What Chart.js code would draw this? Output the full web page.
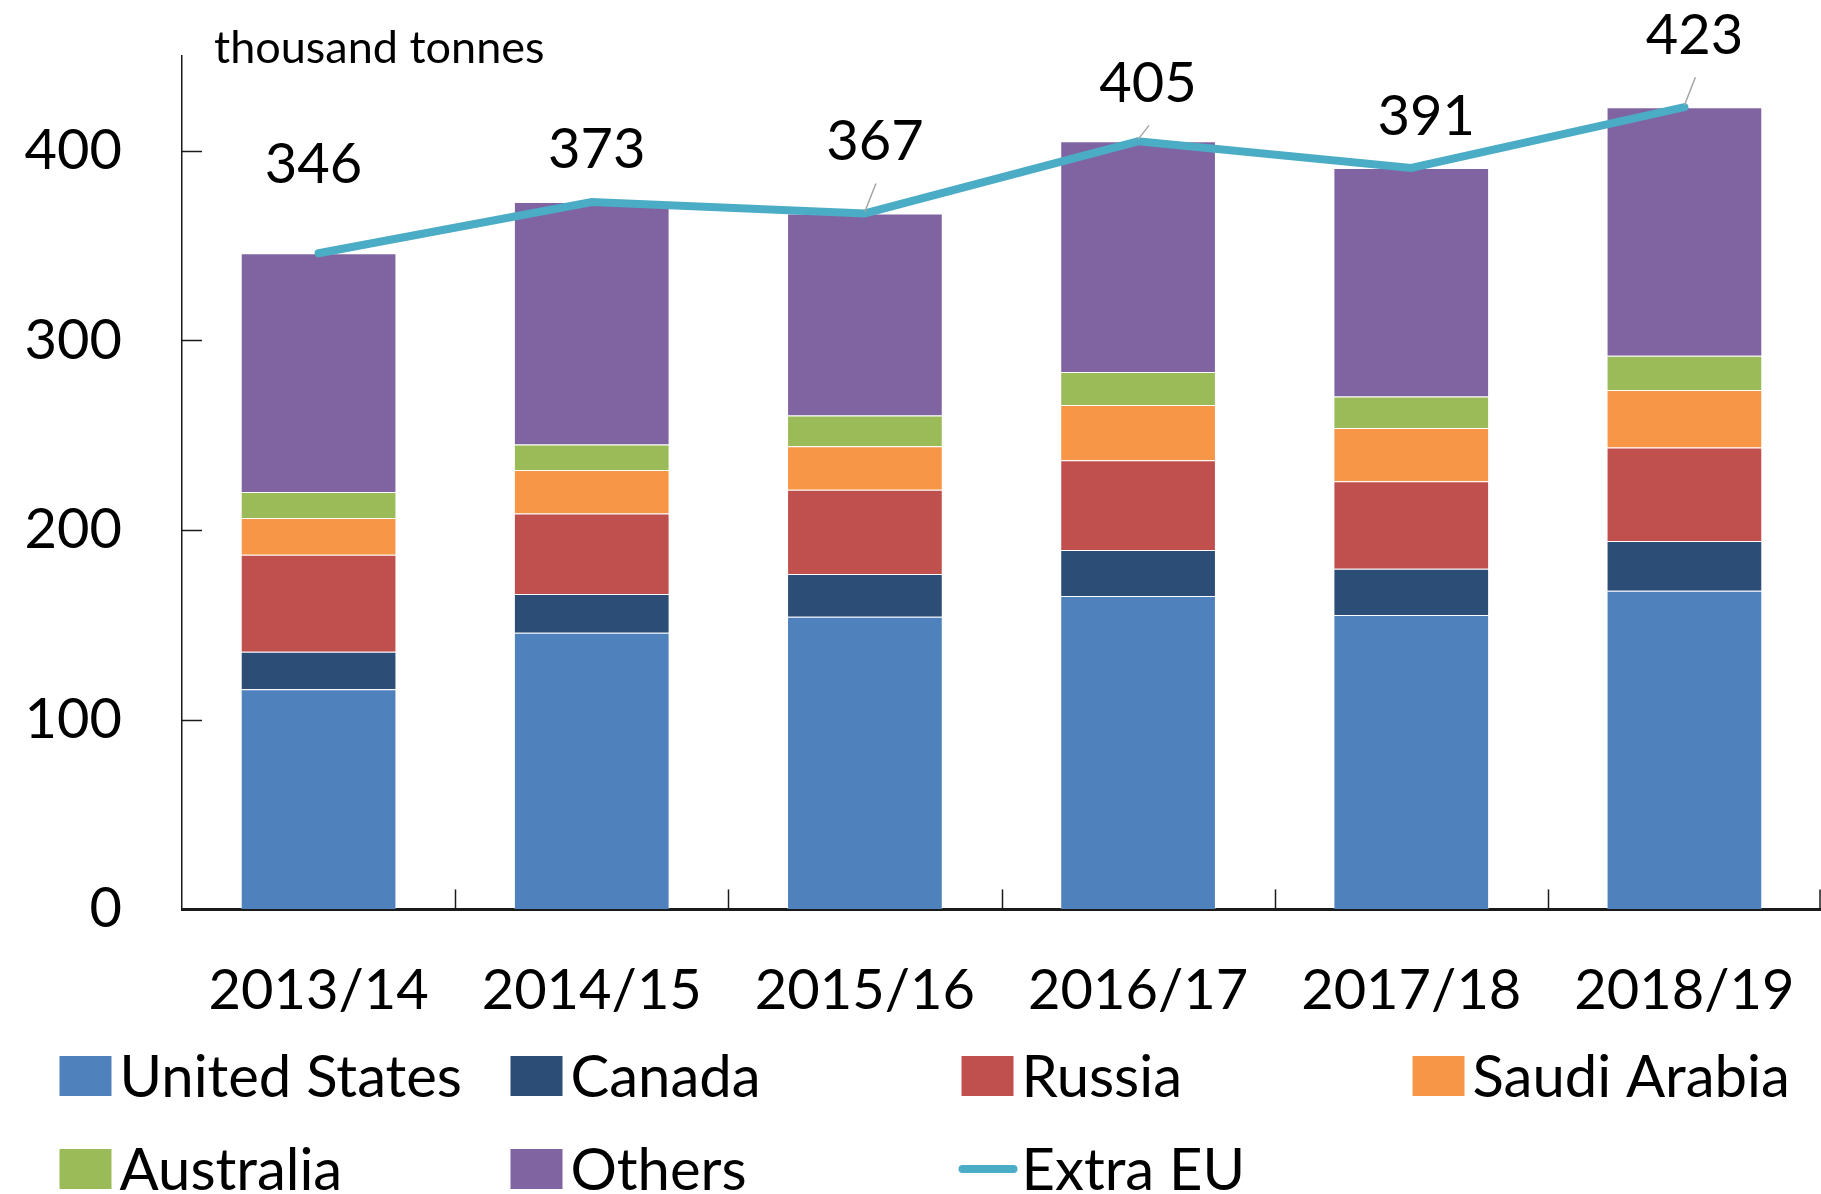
<!DOCTYPE html>
<html>
<head>
<meta charset="utf-8">
<script src="https://cdn.jsdelivr.net/npm/chart.js@4.4.1/dist/chart.umd.min.js"></script>
<style>
  html, body { margin: 0; padding: 0; background: #fff; }
  canvas { display: block; }
</style>
</head>
<body>
<canvas id="imports" width="1821" height="1194"></canvas>
<script>
const categories = ['2013/14', '2014/15', '2015/16', '2016/17', '2017/18', '2018/19'];
const unitedStates = [116.1, 145.9, 154.3, 165.2, 155.2, 168.0];
const canada = [19.7, 20.4, 22.5, 24.3, 24.4, 26.2];
const russia = [51.2, 42.5, 44.5, 47.3, 46.1, 49.3];
const saudiArabia = [19.4, 22.9, 22.9, 29.2, 28.2, 30.4];
const australia = [13.7, 13.4, 16.3, 17.4, 16.5, 18.0];
const others = [125.9, 127.9, 106.5, 121.6, 120.6, 131.1];
const extraEU = [346, 373, 367, 405, 391, 423];
const yTicks = [0, 100, 200, 300, 400];

// where each total label sits relative to its point, and which get a leader line
const labelShift = [[-5, -88], [5, -52], [10, -71], [10, -57], [15, -51], [10, -71]];
const leaderLine = [false, false, true, true, false, true];

const FONT = 'Lato, "Open Sans", sans-serif';

function barSet(label, data, color) {
    return {
        type: 'bar',
        label: label,
        data: data,
        backgroundColor: color,
        borderColor: 'rgba(255,255,255,0.35)',
        borderWidth: 1,
        stack: 'bars',
        order: 1,
        barPercentage: 0.57,
        categoryPercentage: 1,
    };
}

const chartData = {
    labels: categories,
    datasets: [
        {
            type: 'line',
            label: 'Extra EU',
            data: extraEU,
            borderColor: '#4BACC6',
            borderWidth: 8,
            borderCapStyle: 'round',
            borderJoinStyle: 'miter',
            pointRadius: 0,
            tension: 0,
            stack: 'total',
            order: 0,
        },
        barSet('United States', unitedStates, '#4F81BD'),
        barSet('Canada', canada, '#2C4D75'),
        barSet('Russia', russia, '#C0504D'),
        barSet('Saudi Arabia', saudiArabia, '#F79646'),
        barSet('Australia', australia, '#9BBB59'),
        barSet('Others', others, '#8064A2'),
    ],
};

// inward tick marks, value labels, unit text and the legend grid
const extras = {
    id: 'extras',
    afterDatasetsDraw(chart) {
        const ctx = chart.ctx;
        const x = chart.scales.x;
        const y = chart.scales.y;
        ctx.save();

        // tick marks
        ctx.strokeStyle = '#1a1a1a';
        ctx.lineWidth = 1.5;
        yTicks.slice(1).forEach(v => {
            const py = Math.round(y.getPixelForValue(v)) + 0.5;
            ctx.beginPath();
            ctx.moveTo(x.left, py);
            ctx.lineTo(x.left + 20, py);
            ctx.stroke();
        });
        for (let i = 0; i < categories.length; i++) {
            let px = Math.round((x.getPixelForValue(i) + x.getPixelForValue(i + 1)) / 2) + 0.5;
            if (px > chart.width) px = chart.width - 1;
            ctx.beginPath();
            ctx.moveTo(px, y.bottom);
            ctx.lineTo(px, y.bottom - 20);
            ctx.stroke();
        }

        // totals above the line
        const meta = chart.getDatasetMeta(0);
        ctx.font = '56px ' + FONT;
        ctx.fillStyle = '#000';
        ctx.textAlign = 'center';
        ctx.textBaseline = 'middle';
        meta.data.forEach((pt, i) => {
            const lx = pt.x + labelShift[i][0];
            const ly = pt.y + labelShift[i][1];
            if (leaderLine[i]) {
                ctx.strokeStyle = '#A6A6A6';
                ctx.lineWidth = 1.5;
                ctx.beginPath();
                ctx.moveTo(lx + 1, ly + 41);
                ctx.lineTo(pt.x, pt.y - 2);
                ctx.stroke();
            }
            ctx.fillText(String(extraEU[i]), lx, ly);
        });

        // unit
        ctx.font = '45px ' + FONT;
        ctx.textAlign = 'left';
        ctx.textBaseline = 'alphabetic';
        ctx.fillText('thousand tonnes', 214, 63);

        // legend
        const order = [1, 2, 3, 4, 5, 6, 0];
        ctx.font = '58px ' + FONT;
        ctx.textBaseline = 'middle';
        order.forEach((di, k) => {
            const ds = chart.data.datasets[di];
            const col = k % 4;
            const row = Math.floor(k / 4);
            const bx = 59.5 + col * 451;
            const cy = row === 0 ? 1076 : 1169;
            if (ds.type === 'line') {
                ctx.strokeStyle = ds.borderColor;
                ctx.lineWidth = 8;
                ctx.lineCap = 'round';
                ctx.beginPath();
                ctx.moveTo(bx + 1, cy);
                ctx.lineTo(bx + 52, cy);
                ctx.stroke();
            } else {
                ctx.fillStyle = ds.backgroundColor;
                ctx.fillRect(bx, cy - 20, 52, 40);
            }
            ctx.fillStyle = '#000';
            ctx.fillText(ds.label, bx + 60, cy + 2);
        });
        ctx.restore();
    }
};

const config = {
    data: chartData,
    options: {
        responsive: false,
        animation: false,
        layout: { padding: { top: 56, right: 0, bottom: 0, left: 0 } },
        plugins: {
            legend: { display: false },
            tooltip: { enabled: false },
        },
        scales: {
            x: {
                stacked: true,
                grid: { display: true, drawOnChartArea: false, drawTicks: false },
                border: { display: true, color: '#1a1a1a', width: 3 },
                ticks: {
                    color: '#000',
                    padding: 48,
                    font: { family: FONT, size: 56 },
                    maxRotation: 0,
                },
                afterFit: (scale) => {
                    scale.height = 284.6;
                    scale.paddingLeft = 0;
                    scale.paddingRight = 0;
                },
            },
            y: {
                stacked: true,
                min: 0,
                max: 450,
                grid: { display: true, drawOnChartArea: false, drawTicks: false },
                border: { display: true, color: '#1a1a1a', width: 1.5 },
                ticks: {
                    stepSize: 100,
                    color: '#000',
                    padding: 60,
                    font: { family: FONT, size: 56 },
                },
                afterBuildTicks: (scale) => {
                    scale.ticks = yTicks.map(v => ({ value: v }));
                },
                afterFit: (scale) => {
                    scale.width = 182;
                    scale.paddingTop = 0;
                    scale.paddingBottom = 0;
                },
            },
        },
    },
    plugins: [extras],
};

const ctx = document.getElementById('imports').getContext('2d');
window.chart = new Chart(ctx, config);
</script>
</body>
</html>
